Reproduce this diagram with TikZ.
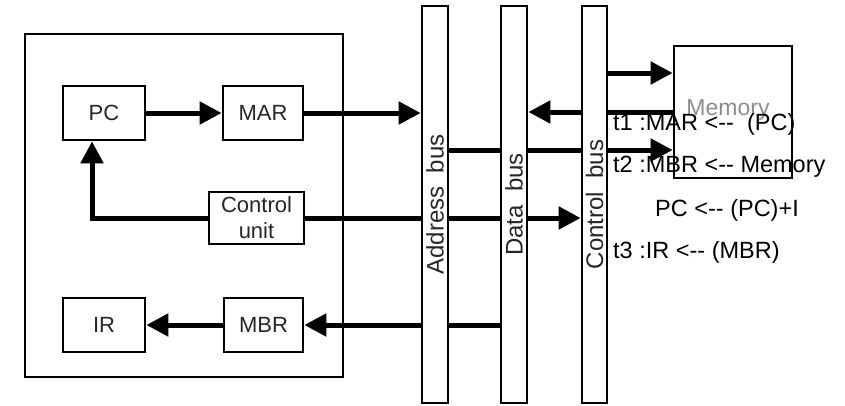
\documentclass[tikz,border=0pt]{standalone}
\usepackage{fontspec}
\setmainfont{Liberation Sans}
\usetikzlibrary{arrows.meta}
\newcommand{\dd}{-\kern0pt-}
\begin{document}
\begin{tikzpicture}[x=1pt,y=-1pt,
  box/.style={draw, line width=2.7pt, inner sep=0pt, text=black!85, font=\fontsize{22}{26}\selectfont, align=center},
  bus/.style={draw, line width=2.7pt, minimum width=26pt, minimum height=397pt, inner sep=0pt},
  buslabel/.style={rotate=90, inner sep=0pt, font=\fontsize{24}{28}\selectfont, text=black!85},
  conn/.style={line width=5pt},
  arr/.style={conn, -{Triangle[length=22pt,width=22pt]}},
  note/.style={anchor=west, inner sep=0pt, font=\fontsize{23.5}{27}\selectfont}]
\useasboundingbox (0,0) rectangle (845,405);

% CPU frame
\node[draw, line width=2.7pt, minimum width=318pt, minimum height=343pt, inner sep=0pt] (cpu) at (184,205.5) {};

% registers
\node[box, minimum width=82pt, minimum height=54pt] (pc) at (104,113) {PC};
\node[box, minimum width=80pt, minimum height=54pt] (mar) at (263,113) {MAR};
\node[box, minimum width=95pt, minimum height=52pt] (cu) at (256.5,218) {Control\\unit};
\node[box, minimum width=82pt, minimum height=54pt] (ir) at (104,325) {IR};
\node[box, minimum width=79pt, minimum height=54pt] (mbr) at (263.5,325) {MBR};

% buses
\node[bus] (abus) at (435,204.5) {};
\node[bus] (dbus) at (514,204.5) {};
\node[bus, minimum width=25pt] (cbus) at (594.5,204.5) {};
\node[buslabel] (abl) at (abus.center) {Address\ \ bus};
\node[buslabel] (dbl) at (dbus.center) {Data\ \ bus};
\node[buslabel] (cbl) at (cbus.center) {Control\ \ bus};

% memory
\node[draw, line width=2.7pt, minimum width=118pt, minimum height=132pt, inner sep=0pt] (mem) at (733,112) {};
\node[inner sep=0pt, text=black!45, font=\fontsize{23}{27}\selectfont] (meml) at (728,110) {Memory};

% helper coordinates
\coordinate (cuturn) at (92,218);
\coordinate (y73) at (0,73);
\coordinate (y112) at (0,112);
\coordinate (y150) at (0,150);

% connectors
\draw[arr] (pc.east) -- (mar.west);
\draw[arr] (mar.east) -- (mar.east -| abus.west);
\draw[arr] (cu.west) -- (cuturn) -- (pc.south -| cuturn);
\draw[conn] (cu.east) -- (cu.east -| abus.west);
\draw[conn] (cu.east -| abus.east) -- (cu.east -| dbus.west);
\draw[arr] (cu.east -| dbus.east) -- (cu.east -| cbus.west);
\draw[conn] (abus.east |- y150) -- (dbus.west |- y150);
\draw[conn] (dbus.east |- y150) -- (cbus.west |- y150);
\draw[arr] (cbus.east |- y150) -- (mem.west |- y150);
\draw[arr] (cbus.east |- y73) -- (mem.west |- y73);
\draw[conn] (mem.west |- y112) -- (cbus.east |- y112);
\draw[arr] (cbus.west |- y112) -- (dbus.east |- y112);
\draw[conn] (dbus.west |- mbr.east) -- (abus.east |- mbr.east);
\draw[arr] (abus.west |- mbr.east) -- (mbr.east);
\draw[arr] (mbr.west) -- (ir.east);

% notes
\node[note] (t1) at (613,124) {t1 :MAR <\dd\ \ (PC)};
\node[note] (t2) at (613,167) {t2 :MBR <\dd\ Memory};
\node[note] (t2b) at (655,210) {PC <\dd\ (PC)+I};
\node[note] (t3) at (613,252) {t3 :IR <\dd\ (MBR)};
\end{tikzpicture}
\end{document}
